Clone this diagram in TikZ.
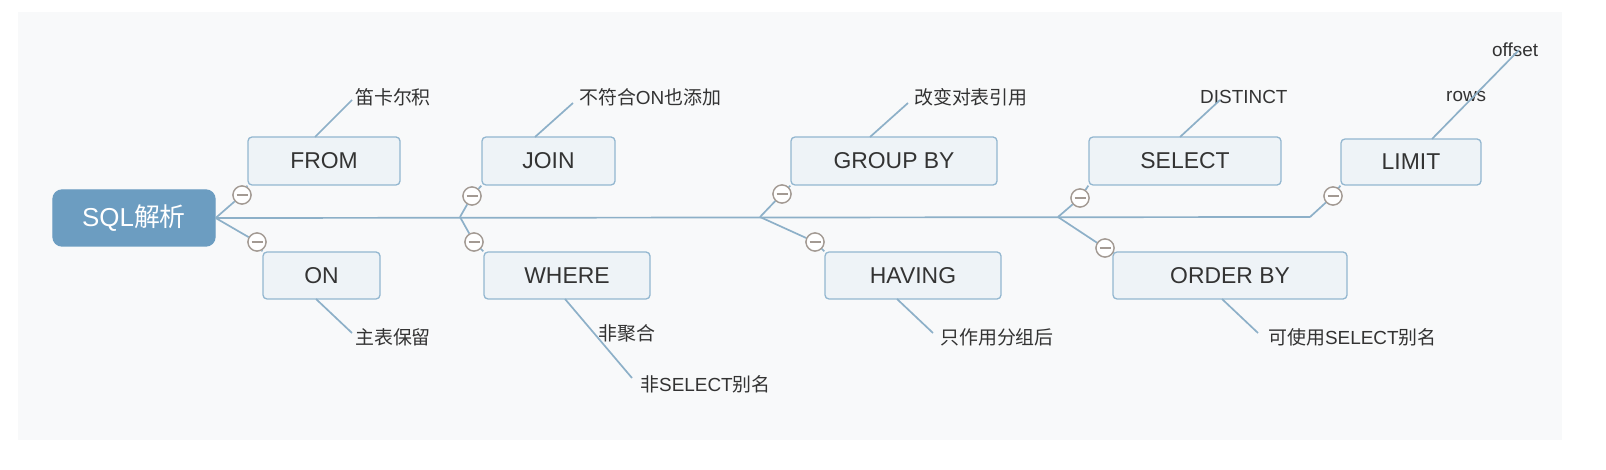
\documentclass[tikz,border=0pt]{standalone}
\usepackage{fontspec}
\setmainfont{Liberation Sans}
\newfontfamily\cjk{Noto Sans CJK SC}
\begin{document}
\begin{tikzpicture}[x=1bp,y=-1bp,
  line/.style={draw=lnc,line width=1.7bp},
  box/.style={draw=bxd,fill=bxf,rounded corners=4bp,line width=1.3bp,font=\fontsize{23}{26}\selectfont,text=txt,inner sep=0pt},
  lab/.style={font=\fontsize{19}{22}\selectfont,text=txt,anchor=west,inner sep=0pt},
  tog/.style={circle,draw=tgc,fill=white,line width=1.3bp,minimum size=18bp,inner sep=0pt,
    path picture={\draw[tgc,line width=1.3bp] ([xshift=-5.5bp]path picture bounding box.center)--([xshift=5.5bp]path picture bounding box.center);}}]
\definecolor{lnc}{HTML}{8DB0C8}
\definecolor{bxd}{HTML}{93B7D0}
\definecolor{bxf}{HTML}{EEF3F7}
\definecolor{txt}{HTML}{333333}
\definecolor{tgc}{HTML}{A39A93}
\definecolor{bg}{HTML}{F8F9FA}
\definecolor{root}{HTML}{6C9DC1}
\useasboundingbox (0,0) rectangle (1606,470);
\fill[white] (0,0) rectangle (1606,470);
\fill[bg] (18,12) rectangle (1562,440);
% main trunk
\coordinate (t1) at (460,217);
\coordinate (t2) at (760,217);
\coordinate (t3) at (1058,217);
\coordinate (t4) at (1310,217);
\node[box,fill=root,draw=root,rounded corners=9bp,text=white,minimum width=162bp,minimum height=56bp,font=\fontsize{26}{30}\selectfont] (root) at (134,218) {SQL{\cjk 解析}};
\draw[line] (root.east) -- (t4);
% boxes
\node[box,minimum width=152bp,minimum height=48bp] (from) at (324,161) {FROM};
\node[box,minimum width=117bp,minimum height=47bp] (on) at (321.5,275.5) {ON};
\node[box,minimum width=133bp,minimum height=48bp] (join) at (548.5,161) {JOIN};
\node[box,minimum width=166bp,minimum height=47bp] (where) at (567,275.5) {WHERE};
\node[box,minimum width=206bp,minimum height=48bp] (group) at (894,161) {GROUP BY};
\node[box,minimum width=176bp,minimum height=47bp] (having) at (913,275.5) {HAVING};
\node[box,minimum width=192bp,minimum height=48bp] (select) at (1185,161) {SELECT};
\node[box,minimum width=234bp,minimum height=47bp] (order) at (1230,275.5) {ORDER BY};
\node[box,minimum width=140bp,minimum height=46bp] (limit) at (1411,162) {LIMIT};
% toggles
\node[tog] (c1) at (242,195) {};
\node[tog] (c2) at (257,242) {};
\node[tog] (c3) at (472,196) {};
\node[tog] (c4) at (474,242) {};
\node[tog] (c5) at (782,194) {};
\node[tog] (c6) at (815,242) {};
\node[tog] (c7) at (1080,198) {};
\node[tog] (c8) at (1105,248) {};
\node[tog] (c9) at (1333,196) {};
% branches
\draw[line] (root.east) -- (c1) -- (from.south west);
\draw[line] (root.east) -- (c2) -- (on.north west);
\draw[line] (t1) -- (c3) -- (join.south west);
\draw[line] (t1) -- (c4) -- (where.north west);
\draw[line] (t2) -- (c5) -- (group.south west);
\draw[line] (t2) -- (c6) -- (having.north west);
\draw[line] (t3) -- (c7) -- (select.south west);
\draw[line] (t3) -- (c8) -- (order.north west);
\draw[line] (t4) -- (c9) -- (limit.south west);
\foreach \c in {c1,c2,c3,c4,c5,c6,c7,c8,c9} \node[tog] at (\c) {};
% leaf labels
\node[lab] (l1) at (355,97) {\cjk 笛卡尔积};
\node[lab] (l2) at (355,337) {\cjk 主表保留};
\node[lab] (l3) at (579,97) {{\cjk 不符合}ON{\cjk 也添加}};
\node[lab] (l4) at (598,333) {\cjk 非聚合};
\node[lab] (l5) at (640,384) {{\cjk 非}SELECT{\cjk 别名}};
\node[lab] (l6) at (914,97) {\cjk 改变对表引用};
\node[lab] (l7) at (940,337) {\cjk 只作用分组后};
\node[lab] (l8) at (1200,97) {DISTINCT};
\node[lab] (l9) at (1268,337) {{\cjk 可使用}SELECT{\cjk 别名}};
\node[lab] (l10) at (1446,97) {rows};
\node[lab] (l11) at (1492,50) {offset};
\coordinate (e1) at (315,137); \coordinate (f1) at (352,100);
\coordinate (e2) at (316,299); \coordinate (f2) at (352,333);
\coordinate (e3) at (535,137); \coordinate (f3) at (573,103);
\coordinate (e4) at (565,299); \coordinate (f4) at (632,378);
\coordinate (e6) at (870,137); \coordinate (f6) at (908,103);
\coordinate (e7) at (897,299); \coordinate (f7) at (933,333);
\coordinate (e8) at (1180,137); \coordinate (f8) at (1220,100);
\coordinate (e9) at (1222,299); \coordinate (f9) at (1258,333);
\coordinate (e10) at (1432,139); \coordinate (f10) at (1519,50);
\foreach \a/\b in {e1/f1,e2/f2,e3/f3,e4/f4,e6/f6,e7/f7,e8/f8,e9/f9,e10/f10} \draw[line] (\a) -- (\b);
\end{tikzpicture}
\end{document}
